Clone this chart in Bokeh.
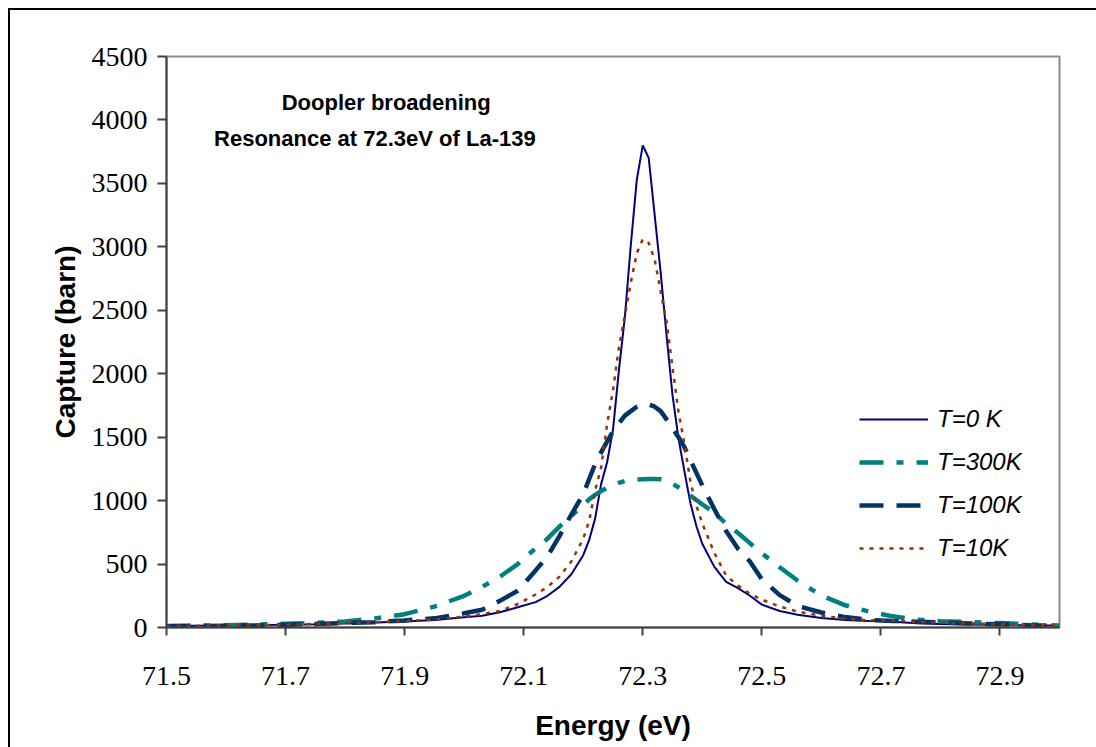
from bokeh.plotting import figure
from bokeh.models import FixedTicker, Label, Legend, LegendItem, Range1d
from bokeh.embed import file_html
from bokeh.resources import INLINE

energy = [71.50, 71.55, 71.60, 71.65, 71.70, 71.75, 71.80, 71.85, 71.90, 71.95,
          72.00, 72.03, 72.06, 72.09, 72.12, 72.14, 72.16, 72.18, 72.20, 72.21,
          72.22, 72.23, 72.24, 72.25, 72.26, 72.27, 72.28, 72.29, 72.30, 72.31,
          72.32, 72.33, 72.34, 72.35, 72.36, 72.37, 72.38, 72.39, 72.40, 72.42,
          72.44, 72.46, 72.48, 72.50, 72.53, 72.56, 72.60, 72.64, 72.68, 72.72,
          72.76, 72.80, 72.85, 72.90, 72.95, 73.00]

t0 = [12, 14, 16, 19, 22, 26, 32, 39, 48, 60,
      80, 92, 120, 160, 200, 250, 320, 420, 570, 690,
      860, 1130, 1300, 1560, 2030, 2450, 3020, 3530, 3800, 3700,
      3250, 2800, 2300, 1830, 1490, 1230, 980, 800, 660, 480,
      360, 310, 250, 180, 130, 100, 75, 60, 52, 45,
      34, 28, 24, 20, 17, 15]

t300 = [12, 14, 18, 22, 30, 36, 48, 72, 105, 165,
        250, 320, 400, 500, 625, 700, 795, 880, 965, 1010,
        1045, 1075, 1100, 1120, 1140, 1155, 1163, 1166, 1168, 1170,
        1170, 1168, 1155, 1132, 1105, 1075, 1040, 1005, 970, 905,
        817, 745, 665, 585, 475, 370, 252, 175, 125, 88,
        62, 50, 42, 35, 25, 16]

t100 = [10, 12, 14, 16, 22, 28, 35, 42, 56, 72,
        112, 140, 210, 290, 450, 560, 720, 890, 1050, 1170,
        1290, 1380, 1465, 1545, 1610, 1670, 1705, 1740, 1760, 1758,
        1740, 1705, 1640, 1570, 1500, 1421, 1320, 1220, 1120, 935,
        760, 620, 520, 380, 255, 170, 118, 82, 60, 52,
        45, 40, 32, 25, 18, 14]

t10 = [12, 14, 16, 18, 22, 28, 33, 42, 52, 62,
       85, 105, 130, 185, 260, 320, 400, 520, 700, 840,
       1080, 1260, 1600, 1870, 2210, 2460, 2720, 2950, 3060, 3030,
       2900, 2650, 2410, 2050, 1700, 1448, 1150, 960, 820, 590,
       410, 330, 266, 220, 165, 125, 92, 70, 58, 55,
       45, 38, 32, 26, 20, 16]

series_labels = ["T=0 K", "T=300K", "T=100K", "T=10K"]
x_ticks = [71.5, 71.7, 71.9, 72.1, 72.3, 72.5, 72.7, 72.9]
y_ticks = [0, 500, 1000, 1500, 2000, 2500, 3000, 3500, 4000, 4500]
title_lines = ["Doopler broadening", "Resonance at 72.3eV of La-139"]

p = figure(width=1086, height=737, frame_width=893, frame_height=571,
           min_border_left=156, min_border_top=46, min_border_right=37, min_border_bottom=120,
           x_range=Range1d(71.5, 73.0), y_range=Range1d(0, 4500),
           output_backend="svg", toolbar_location=None)
p.styles = {"margin-left": "8px", "margin-top": "8px",
            "border-left": "2px solid black", "border-top": "2px solid black"}

p.background_fill_color = "white"
p.border_fill_color = "white"
p.outline_line_color = "#8c8c8c"
p.outline_line_width = 2
p.xgrid.visible = False
p.ygrid.visible = False

for ax in (p.xaxis[0], p.yaxis[0]):
    ax.axis_line_color = "#404040"
    ax.axis_line_width = 2
    ax.major_tick_line_color = "#404040"
    ax.major_tick_line_width = 2
    ax.major_tick_in = 0
    ax.minor_tick_line_color = None
    ax.major_label_text_font = "Liberation Serif"
    ax.major_label_text_font_size = "28px"
    ax.major_label_text_color = "black"
    ax.axis_label_text_font = "Liberation Sans"
    ax.axis_label_text_font_style = "bold"
    ax.axis_label_text_font_size = "28px"
    ax.axis_label_text_color = "black"

p.xaxis.ticker = FixedTicker(ticks=x_ticks)
p.yaxis.ticker = FixedTicker(ticks=y_ticks)
p.xaxis.major_tick_out = 8
p.yaxis.major_tick_out = 9
p.xaxis.major_label_standoff = 31
p.yaxis.major_label_standoff = 10
p.xaxis.axis_label = "Energy (eV)"
p.yaxis.axis_label = "Capture (barn)"
p.xaxis.axis_label_standoff = 22
p.yaxis.axis_label_standoff = 8

r0 = p.line(energy, t0, line_color="#000080", line_width=2)
r300 = p.line(energy, t300, line_color="#008080", line_width=4.5, line_dash="24 13 7 13")
r100 = p.line(energy, t100, line_color="#003366", line_width=4.5, line_dash="24 13")
r10 = p.line(energy, t10, line_color="#993300", line_width=2.5, line_dash="4 6")

legend = Legend(items=[LegendItem(label=series_labels[0], renderers=[r0]),
                       LegendItem(label=series_labels[1], renderers=[r300]),
                       LegendItem(label=series_labels[2], renderers=[r100]),
                       LegendItem(label=series_labels[3], renderers=[r10])],
                location=(693, 64), label_text_font="Liberation Sans",
                label_text_font_style="italic", label_text_font_size="24px",
                label_text_color="black",
                glyph_width=69, glyph_height=30, label_standoff=9, spacing=13,
                padding=0, margin=0, border_line_color=None, background_fill_alpha=0)
p.add_layout(legend)

p.add_layout(Label(x=71.869, y=4139, text=title_lines[0], text_align="center", text_baseline="middle",
                   text_font="Liberation Sans", text_font_style="bold", text_font_size="22px",
                   text_color="black"))
p.add_layout(Label(x=71.850, y=3853, text=title_lines[1], text_align="center", text_baseline="middle",
                   text_font="Liberation Sans", text_font_style="bold", text_font_size="22px",
                   text_color="black"))

open("out.html", "w").write(file_html(p, INLINE))
